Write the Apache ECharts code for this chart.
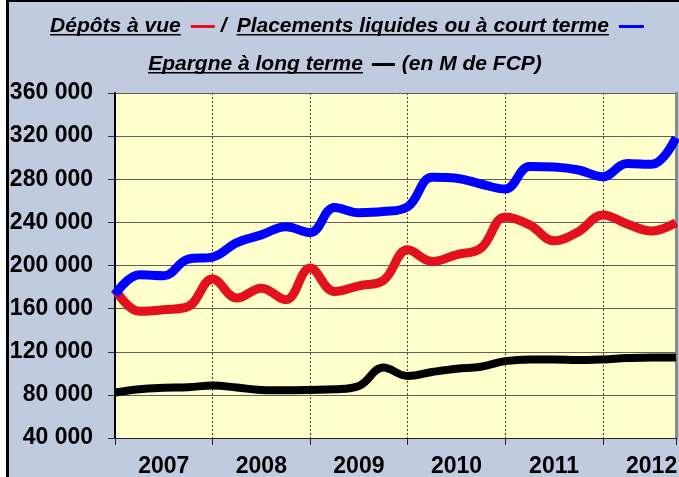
<!DOCTYPE html>
<html>
<head>
<meta charset="utf-8">
<script src="https://cdn.jsdelivr.net/npm/echarts@6/dist/echarts.min.js"></script>
<style>
  html, body { margin: 0; padding: 0; background: #fff; }
  #chart { width: 679px; height: 477px; }
</style>
</head>
<body>
<div id="chart"></div>
<script>
// quarterly values, 2007 Q1 -> 2012 Q4 (M de FCP)
const years = ["2007", "2008", "2009", "2010", "2011", "2012"];
const depotsAVue = [178000, 157500, 159000, 162000, 187400, 169800, 179000, 168200,
  197600, 175900, 181200, 186100, 214500, 203700, 210000, 216100,
  245000, 237700, 223000, 231400, 246900, 238500, 232000, 239700];
const placementsCourtTerme = [173000, 191400, 190500, 206000, 207800, 221300, 228400, 236000,
  230500, 253800, 249000, 250000, 254500, 281800, 281000, 275600,
  270900, 291800, 291300, 288600, 282400, 294700, 293800, 318500];
const epargneLongTerme = [82200, 85200, 86500, 87100, 88700, 86800, 84600, 84300,
  84600, 85200, 88300, 105300, 97500, 101200, 104300, 106100,
  111300, 112900, 112900, 112300, 112900, 114100, 114700, 114700];
const yMin = 40000, yMax = 360000, yStep = 40000;

const titleFont = 'italic bold 21px "Liberation Sans", Arial, sans-serif';
const ctx = document.createElement("canvas").getContext("2d");
function textWidth(t) {
  ctx.font = titleFont;
  return ctx.measureText(t).width;
}

// lays out one title line: underlined texts and coloured dashes
function titleLine(parts, cx, y) {
  let total = 0;
  parts.forEach(p => { p.w = p.dash ? p.len : textWidth(p.text); total += p.w + (p.gap || 0); });
  let x = cx - total / 2;
  const out = [];
  parts.forEach(p => {
    if (p.dash) {
      out.push({ type: "rect", shape: { x: x, y: y, width: p.w, height: 3 }, style: { fill: p.dash } });
    } else {
      out.push({ type: "text", x: x, y: y + 1, style: { text: p.text, font: titleFont, fill: "#000", verticalAlign: "middle", align: "left" } });
      if (p.underline) {
        out.push({ type: "rect", shape: { x: x, y: y + 9, width: p.w, height: 1.5 }, style: { fill: "#000" } });
      }
    }
    x += p.w + (p.gap || 0);
  });
  return out;
}

const myChart = echarts.init(document.getElementById("chart"));

const graphics = [
  { type: "rect", shape: { x: 0, y: 0, width: 6, height: 477 }, style: { fill: "#fff" } },
  { type: "rect", shape: { x: 6, y: 0, width: 3, height: 477 }, style: { fill: "#000" } },
  { type: "rect", shape: { x: 6, y: 0, width: 673, height: 2 }, style: { fill: "#000" } }
].concat(
  titleLine([
    { text: "Dépôts à vue", underline: true, gap: 10 },
    { dash: "#e3101e", len: 24, gap: 6 },
    { text: "/", gap: 10 },
    { text: "Placements liquides ou à court terme", underline: true, gap: 10 },
    { dash: "#0000ff", len: 25 }
  ], 347, 25),
  titleLine([
    { text: "Epargne à long terme", underline: true, gap: 9 },
    { dash: "#000", len: 23, gap: 7 },
    { text: "(en M de FCP)" }
  ], 345, 63)
);

const seriesStyle = (name, color, data, width) => ({
  name: name,
  type: "line",
  data: data.map((v, i) => [i, v]),
  smooth: 0.4,
  symbol: "none",
  lineStyle: { color: color, width: width },
  itemStyle: { color: color }
});

myChart.setOption({
  backgroundColor: "#c1cbdf",
  animation: false,
  graphic: graphics,
  grid: {
    left: 115,
    right: 3,
    top: 93,
    bottom: 39,
    outerBoundsMode: "none",
    containLabel: false,
    show: true,
    backgroundColor: "#ffffcc",
    borderWidth: 0
  },
  xAxis: {
    type: "value",
    min: 0,
    max: depotsAVue.length - 1,
    interval: 4,
    axisLine: { show: true, lineStyle: { color: "#222", width: 1 } },
    axisTick: { show: true, inside: false, length: 7, lineStyle: { color: "#222" } },
    splitLine: { show: true, lineStyle: { color: "#444", type: [2, 2], width: 1 } },
    axisLabel: {
      customValues: years.map((y, i) => i * 4 + 2),
      formatter: v => years[(v - 2) / 4],
      color: "#000",
      fontFamily: '"Liberation Sans", Arial, sans-serif',
      fontWeight: "bold",
      fontSize: 23,
      margin: 17
    }
  },
  yAxis: [
    {
      type: "value",
      min: yMin,
      max: yMax,
      interval: yStep,
      axisLine: { show: true, lineStyle: { color: "#000", width: 2 } },
      axisTick: { show: true, inside: false, length: 7, lineStyle: { color: "#333" } },
      splitLine: { show: true, lineStyle: { color: "#5f5f5f", width: 1 } },
      axisLabel: {
        formatter: v => String(v).replace(/\B(?=(\d{3})+(?!\d))/g, " "),
        color: "#000",
        fontFamily: '"Liberation Sans", Arial, sans-serif',
        fontWeight: "bold",
        fontSize: 23,
        margin: 22
      }
    },
    {
      type: "value",
      position: "right",
      min: yMin,
      max: yMax,
      interval: yStep,
      axisLine: { show: true, lineStyle: { color: "#8a8a8a", width: 3 } },
      axisTick: { show: false },
      axisLabel: { show: false },
      splitLine: { show: false }
    }
  ],
  series: [
    seriesStyle("Dépôts à vue", "#e3101e", depotsAVue, 9),
    seriesStyle("Placements liquides ou à court terme", "#0000ff", placementsCourtTerme, 9),
    seriesStyle("Epargne à long terme", "#000000", epargneLongTerme, 8)
  ]
});

window.addEventListener("resize", function() {
  myChart.resize();
});
</script>
</body>
</html>
